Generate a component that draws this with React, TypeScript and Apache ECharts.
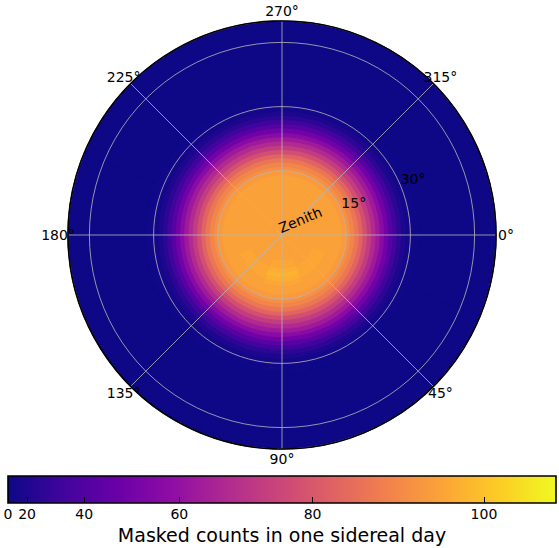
import React, { useEffect, useRef } from "react";
import * as echarts from "echarts";

// ---- data ----
const AZIMUTHS = [0, 45, 90, 135, 180, 225, 270, 315]; // degrees, clockwise from the right
const ZENITH_STEP = 1; // degrees per radial bin
const AZ_STEP = 45;

// masked counts per 1° zenith bin (0..49°), one profile per azimuth direction
const PROFILE_0 = [95, 95, 95, 95, 95, 95, 95, 95, 95, 95, 95, 95, 95, 95, 94, 92, 90, 87, 83, 78, 73, 68, 63, 57, 50, 42, 34, 26, 19, 13, 9, 6, 4, 4, 4, 4, 4, 4, 4, 4, 4, 4, 4, 4, 4, 4, 4, 4, 4, 4];
const PROFILE_45 = [95, 95, 95, 95, 95, 95, 95, 95, 96, 96, 96, 95, 95, 95, 94, 92, 90, 87, 83, 78, 73, 68, 63, 57, 50, 42, 34, 26, 19, 13, 9, 6, 4, 4, 4, 4, 4, 4, 4, 4, 4, 4, 4, 4, 4, 4, 4, 4, 4, 4];
const PROFILE_90 = [95, 95, 95, 95, 95, 95, 96, 96, 97, 98, 97, 96, 95, 95, 94, 92, 90, 87, 83, 78, 73, 68, 63, 57, 50, 42, 34, 26, 19, 13, 9, 6, 4, 4, 4, 4, 4, 4, 4, 4, 4, 4, 4, 4, 4, 4, 4, 4, 4, 4];
const PROFILE_135 = [95, 95, 95, 95, 95, 95, 95, 95, 96, 96, 96, 95, 95, 95, 94, 92, 90, 87, 83, 78, 73, 68, 63, 57, 50, 42, 34, 26, 19, 13, 9, 6, 4, 4, 4, 4, 4, 4, 4, 4, 4, 4, 4, 4, 4, 4, 4, 4, 4, 4];
const PROFILE_180 = [95, 95, 95, 95, 95, 95, 95, 95, 95, 95, 95, 95, 95, 95, 94, 92, 90, 87, 83, 78, 73, 68, 63, 57, 50, 42, 34, 26, 19, 13, 9, 6, 4, 4, 4, 4, 4, 4, 4, 4, 4, 4, 4, 4, 4, 4, 4, 4, 4, 4];
const PROFILE_225 = [95, 95, 95, 95, 95, 95, 95, 95, 95, 95, 95, 95, 95, 95, 94, 92, 90, 87, 83, 78, 73, 68, 63, 57, 50, 42, 34, 26, 19, 13, 9, 6, 4, 4, 4, 4, 4, 4, 4, 4, 4, 4, 4, 4, 4, 4, 4, 4, 4, 4];
const PROFILE_270 = [95, 95, 95, 95, 95, 95, 95, 95, 95, 95, 95, 95, 95, 95, 94, 92, 90, 87, 83, 78, 73, 68, 63, 57, 50, 42, 34, 26, 19, 13, 9, 6, 4, 4, 4, 4, 4, 4, 4, 4, 4, 4, 4, 4, 4, 4, 4, 4, 4, 4];
const PROFILE_315 = [95, 95, 95, 95, 95, 95, 95, 95, 95, 95, 95, 95, 95, 95, 94, 92, 90, 87, 83, 78, 73, 68, 63, 57, 50, 42, 34, 26, 19, 13, 9, 6, 4, 4, 4, 4, 4, 4, 4, 4, 4, 4, 4, 4, 4, 4, 4, 4, 4, 4];
const PROFILES = [PROFILE_0, PROFILE_45, PROFILE_90, PROFILE_135, PROFILE_180, PROFILE_225, PROFILE_270, PROFILE_315];

const ZENITH_MAX = 50;
const RING_INTERVAL = 15;
const ANGLE_TICKS = [0, 45, 90, 135, 180, 225, 270, 315];
const RADIAL_LABEL_TICKS = [15, 30];
const RADIAL_LABEL_AZ = 337.5;
const ZENITH_LABEL = "Zenith";

const COLOR_MAX = 107.3; // colour scale upper end (power norm, gamma 2)
const COLORBAR_TICKS = [0, 20, 40, 60, 80, 100];
const COLORBAR_TITLE = "Masked counts in one sidereal day";

const PLASMA = ["#0d0887", "#41049d", "#6a00a8", "#8f0da4", "#b12a90", "#cc4778", "#e16462", "#f2844b", "#fca636", "#fcce25", "#f0f921"];

const FONT = "DejaVu Sans";

export default function App() {
  const ref = useRef<HTMLDivElement>(null);
  useEffect(() => {
    if (!ref.current) return;
    const chart = echarts.init(ref.current, null, { renderer: "svg" });

    // merge runs of equal consecutive bins into one annular cell
    const cells: number[][] = [];
    AZIMUTHS.forEach((az, i) => {
      const prof = PROFILES[i];
      let k = 0;
      while (k < prof.length) {
        let j = k;
        while (j + 1 < prof.length && prof[j + 1] === prof[k]) j++;
        const v = prof[k];
        cells.push([k * ZENITH_STEP, az, v, v * v, (j - k + 1) * ZENITH_STEP]);
        k = j + 1;
      }
    });
    const cmax2 = COLOR_MAX * COLOR_MAX;

    const option: any = {
      animation: false,
      backgroundColor: "#ffffff",
      polar: { center: [282, 235], radius: 214 },
      angleAxis: {
        type: "value",
        min: 0,
        max: 360,
        interval: 45,
        startAngle: 0,
        clockwise: true,
        z: 6,
        axisLine: { show: true, lineStyle: { color: "#000", width: 1.6 } },
        axisTick: { show: false },
        axisLabel: { show: false },
        splitLine: { show: true, lineStyle: { color: "#b8b8b8", width: 0.8 } },
      },
      radiusAxis: {
        type: "value",
        min: 0,
        max: ZENITH_MAX,
        interval: RING_INTERVAL,
        z: 5,
        axisLine: { show: false },
        axisTick: { show: false },
        axisLabel: { show: false },
        splitLine: { show: true, lineStyle: { color: "#b8b8b8", width: 0.8 } },
      },
      grid: { left: 8, top: 476, width: 548, height: 27 },
      xAxis: {
        type: "value",
        gridIndex: 0,
        min: 0,
        max: cmax2,
        z: 10,
        axisLine: { show: false },
        splitLine: { show: false },
        axisTick: {
          show: true,
          inside: true,
          length: 6,
          customValues: COLORBAR_TICKS.map((v) => v * v),
          lineStyle: { color: "#000", width: 1 },
        },
        axisLabel: {
          show: true,
          margin: 4,
          customValues: COLORBAR_TICKS.map((v) => v * v),
          formatter: (val: number) => String(Math.round(Math.sqrt(val))),
          color: "#000",
          fontSize: 14,
          fontFamily: FONT,
        },
        name: COLORBAR_TITLE,
        nameLocation: "middle",
        nameGap: 22,
        nameTextStyle: { color: "#000", fontSize: 19, fontFamily: FONT },
      },
      yAxis: { type: "value", gridIndex: 0, min: 0, max: 1, show: false },
      visualMap: {
        type: "continuous",
        show: false,
        seriesIndex: 0,
        dimension: 3,
        min: 0,
        max: cmax2,
        inRange: { color: PLASMA },
      },
      series: [
        {
          type: "custom",
          coordinateSystem: "polar",
          z: 2,
          encode: { radius: 0, angle: 1 },
          data: cells,
          renderItem: (params: any, api: any) => {
            const cs = params.coordSys;
            const z = api.value(0);
            const az = api.value(1);
            const w = api.value(4);
            const half = AZ_STEP / 2;
            const pIn = api.coord([z, az]);
            const pOut = api.coord([z + w, az]);
            const pA = api.coord([z + w, az - half]);
            const pB = api.coord([z + w, az + half]);
            const r0 = Math.hypot(pIn[0] - cs.cx, pIn[1] - cs.cy);
            const r = Math.hypot(pOut[0] - cs.cx, pOut[1] - cs.cy);
            const a0 = Math.atan2(pA[1] - cs.cy, pA[0] - cs.cx);
            let a1 = Math.atan2(pB[1] - cs.cy, pB[0] - cs.cx);
            if (a1 <= a0) a1 += Math.PI * 2;
            const color = api.visual("color");
            return {
              type: "sector",
              shape: { cx: cs.cx, cy: cs.cy, r0, r, startAngle: a0, endAngle: a1, clockwise: true },
              style: { fill: color, stroke: color, lineWidth: 1.2 },
            };
          },
        },
        {
          type: "custom",
          coordinateSystem: "polar",
          z: 10,
          silent: true,
          data: ANGLE_TICKS.map((a) => [ZENITH_MAX, a]),
          renderItem: (params: any, api: any) => {
            const cs = params.coordSys;
            const p = api.coord([api.value(0), api.value(1)]);
            const dx = p[0] - cs.cx;
            const dy = p[1] - cs.cy;
            const d = Math.hypot(dx, dy);
            const k = (d + 10) / d;
            return {
              type: "text",
              x: cs.cx + dx * k,
              y: cs.cy + dy * k,
              style: {
                text: api.value(1) + "°",
                align: "center",
                verticalAlign: "middle",
                fill: "#000",
                fontSize: 14,
                fontFamily: FONT,
              },
            };
          },
        },
        {
          type: "custom",
          coordinateSystem: "polar",
          z: 10,
          silent: true,
          data: RADIAL_LABEL_TICKS.map((r) => [r, RADIAL_LABEL_AZ]),
          renderItem: (params: any, api: any) => {
            const p = api.coord([api.value(0), api.value(1)]);
            return {
              type: "text",
              x: p[0],
              y: p[1],
              style: {
                text: api.value(0) + "°",
                align: "left",
                verticalAlign: "bottom",
                fill: "#000",
                fontSize: 14,
                fontFamily: FONT,
              },
            };
          },
        },
        {
          type: "custom",
          coordinateSystem: "polar",
          z: 10,
          silent: true,
          data: [[0, RADIAL_LABEL_AZ]],
          renderItem: (params: any, api: any) => {
            const p = api.coord([api.value(0), api.value(1)]);
            return {
              type: "text",
              x: p[0],
              y: p[1],
              rotation: ((360 - RADIAL_LABEL_AZ) * Math.PI) / 180,
              style: {
                text: ZENITH_LABEL,
                align: "left",
                verticalAlign: "bottom",
                fill: "#000",
                fontSize: 14,
                fontFamily: FONT,
              },
            };
          },
        },
        {
          type: "custom",
          xAxisIndex: 0,
          yAxisIndex: 0,
          z: 2,
          silent: true,
          encode: { x: [0, 2], y: [1, 3] },
          data: [[0, 0, cmax2, 1]],
          renderItem: (params: any, api: any) => {
            const p0 = api.coord([api.value(0), api.value(1)]);
            const p1 = api.coord([api.value(2), api.value(3)]);
            const stops = PLASMA.map((c, i) => ({ offset: i / (PLASMA.length - 1), color: c }));
            return {
              type: "rect",
              shape: { x: p0[0], y: p1[1], width: p1[0] - p0[0], height: p0[1] - p1[1] },
              style: {
                fill: new echarts.graphic.LinearGradient(0, 0, 1, 0, stops),
                stroke: "#000",
                lineWidth: 1.6,
              },
            };
          },
        },
      ],
    };
    chart.setOption(option);
    return () => chart.dispose();
  }, []);
  return (
    <div
      ref={ref}
      style={{ position: "absolute", left: 0, top: 0, width: 559, height: 548 }}
    />
  );
}
